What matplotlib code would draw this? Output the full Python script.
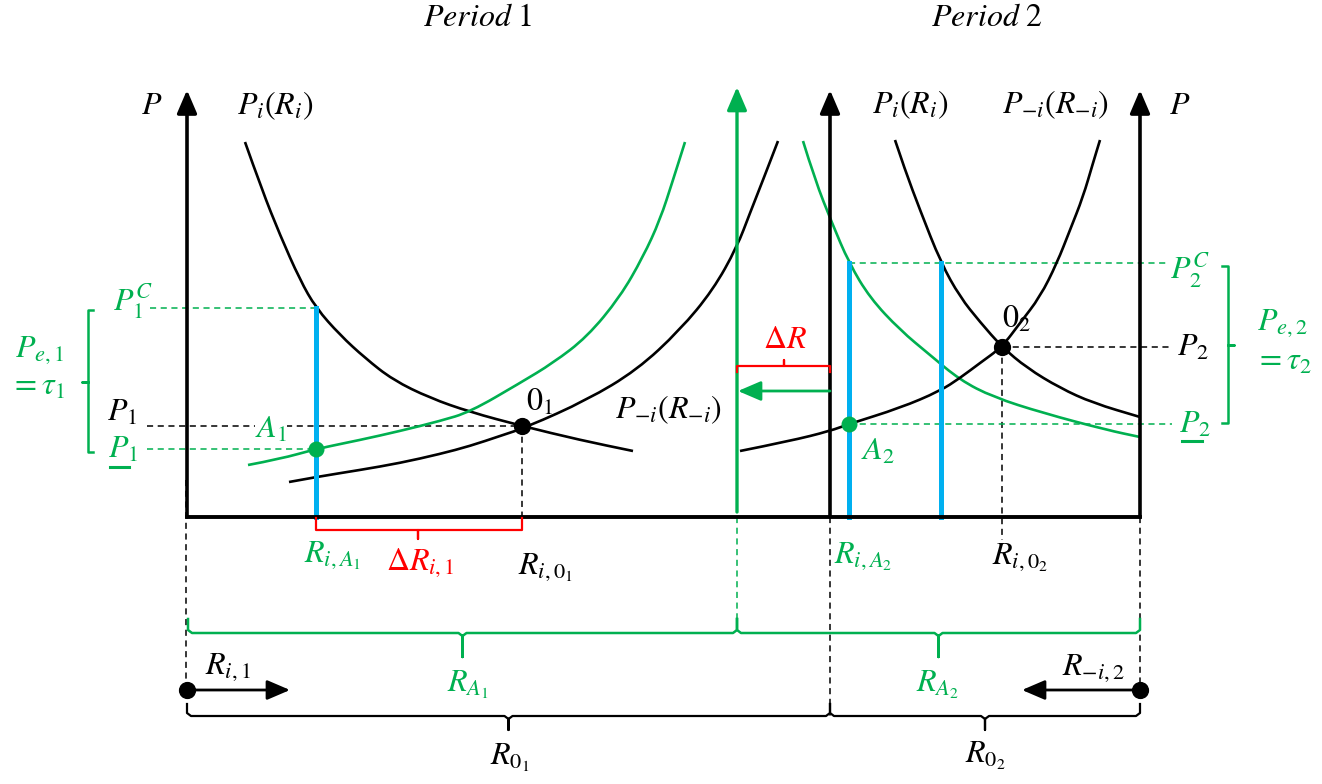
import matplotlib.pyplot as plt
import matplotlib as mpl
from matplotlib.path import Path
from matplotlib.patches import PathPatch
import numpy as np

mpl.rcParams['mathtext.fontset'] = 'stix'
mpl.rcParams['font.family'] = 'STIXGeneral'

GREEN = '#00B050'
BLUE = '#00B0F0'
RED = '#FF0000'

# diagram units (x to the right, y downward)
base_y = 517
axis_top = 90
left_axis_x = 187
mid_axis_x = 830
right_axis_x = 1140
shift_axis_x = 737

# period 1 curves
p1_demand_x = [245, 262, 280, 300, 316, 340, 365, 393, 430, 470, 522, 580, 633]
p1_demand_y = [142, 190, 235, 280, 308, 335, 358, 380, 398, 412, 426, 440, 451]
p1_other_x = [289, 316, 360, 400, 440, 470, 500, 527, 587, 637, 680, 713, 737, 750, 763, 778]
p1_other_y = [482, 477, 470, 463, 454, 446, 436, 427, 400, 370, 330, 290, 247, 213, 180, 141]
p1_green_x = [248, 280, 316, 360, 400, 440, 470, 520, 553, 587, 620, 643, 660, 673, 685]
p1_green_y = [465, 459, 449, 440, 431, 421, 412, 383, 363, 337, 297, 257, 220, 180, 142]

# period 2 curves
p2_green_x = [803, 815, 832, 849, 870, 900, 930, 960, 993, 1043, 1107, 1140]
p2_green_y = [141, 180, 223, 263, 298, 330, 355, 380, 397, 413, 430, 437]
p2_demand_x = [895, 905, 920, 941, 960, 980, 1002, 1027, 1060, 1093, 1140]
p2_demand_y = [140, 170, 210, 263, 297, 322, 347, 368, 388, 403, 417]
p2_other_x = [740, 790, 830, 849, 900, 940, 960, 980, 1002, 1020, 1040, 1057, 1070, 1083, 1093, 1100]
p2_other_y = [451, 441, 431, 424, 408, 391, 378, 363, 347, 323, 297, 263, 230, 197, 163, 140]

# key points
eq_x = [522, 1002]
eq_y = [426, 347]
a_x = [316, 849]
a_y = [449, 424]
blue_x = [316, 849, 941]
blue_top = [308, 263, 263]

fig = plt.figure(figsize=(13.22, 7.84), dpi=100)
ax = fig.add_axes([0, 0, 1, 1])
ax.set_xlim(0, 1322)
ax.set_ylim(784, 0)
ax.axis('off')


def arrow(x0, y0, x1, y1, color='k', lw=2.6, ms=20):
    ax.annotate('', xy=(x1, y1), xytext=(x0, y0),
                arrowprops=dict(arrowstyle='-|>,head_length=0.7,head_width=0.3',
                                lw=lw, color=color, mutation_scale=ms,
                                shrinkA=0, shrinkB=0))


def dash(xs, ys, color='k'):
    ax.plot(xs, ys, color=color, lw=1.1, ls=(0, (4, 3)), zorder=1)


def txt(x, y, s, color='k', size=23, **kw):
    ax.text(x, y, s, color=color, fontsize=size, ha='center', va='center', zorder=6, **kw)


def curve(xs, ys, color):
    # quadratic segments through the midpoints of the read points
    pts = list(zip(xs, ys))
    verts = [pts[0]]
    codes = [Path.MOVETO]
    for i in range(1, len(pts) - 1):
        mid = ((pts[i][0] + pts[i + 1][0]) / 2, (pts[i][1] + pts[i + 1][1]) / 2)
        verts += [pts[i], mid]
        codes += [Path.CURVE3, Path.CURVE3]
    verts.append(pts[-1])
    codes.append(Path.LINETO)
    ax.add_patch(PathPatch(Path(verts, codes), fill=False, edgecolor=color,
                           lw=1.9, zorder=2))


# dashed guides
dash([left_axis_x - 1, left_axis_x - 1], [480, 690])
dash([shift_axis_x, shift_axis_x], [base_y, 633], GREEN)
dash([mid_axis_x, mid_axis_x], [base_y, 716])
dash([right_axis_x, right_axis_x], [base_y, 690])
dash([eq_x[0], eq_x[0]], [eq_y[0], base_y])
dash([eq_x[1], eq_x[1]], [eq_y[1], 540])
dash([150, blue_x[0]], [blue_top[0], blue_top[0]], GREEN)
dash([147, eq_x[0]], [eq_y[0], eq_y[0]])
dash([147, a_x[0]], [a_y[0], a_y[0]], GREEN)
dash([blue_x[1], 1167], [blue_top[1], blue_top[1]], GREEN)
dash([eq_x[1], 1170], [eq_y[1], eq_y[1]])
dash([a_x[1], 1172], [a_y[1], a_y[1]], GREEN)

# axes
ax.plot([left_axis_x, right_axis_x], [base_y, base_y], color='k', lw=2.8, zorder=3)
for x in [left_axis_x, mid_axis_x, right_axis_x]:
    arrow(x, base_y, x, axis_top, 'k', 2.6)
arrow(shift_axis_x, base_y - 5, shift_axis_x, axis_top - 3, GREEN, 2.4)

# curves
curve(p1_demand_x, p1_demand_y, 'k')
curve(p1_other_x, p1_other_y, 'k')
curve(p1_green_x, p1_green_y, GREEN)
curve(p2_green_x, p2_green_y, GREEN)
curve(p2_demand_x, p2_demand_y, 'k')
curve(p2_other_x, p2_other_y, 'k')

# blue quantity lines
for x, top in zip(blue_x, blue_top):
    ax.plot([x, x], [top, base_y], color=BLUE, lw=3.6, zorder=2)

# points
ax.scatter(eq_x, eq_y, s=130, color='k', zorder=5)
ax.scatter(a_x, a_y, s=110, color=GREEN, zorder=5)
ax.scatter([left_axis_x, right_axis_x], [690, 690], s=130, color='k', zorder=5)

# shift arrows
arrow(left_axis_x, 690, 290, 690, 'k', 2.0, 20)
arrow(right_axis_x, 690, 1022, 690, 'k', 2.0, 20)
arrow(mid_axis_x, 391, 738, 391, GREEN, 2.0, 20)


def hbrace(x0, x1, y, tip, color, lw=1.8, end=-14):
    xm = (x0 + x1) / 2
    ax.plot([x0, x0, x0 + 4, xm - 4, xm, xm, xm, xm + 4, x1 - 4, x1, x1],
            [y + end, y - 3, y, y, y + 3, y + tip, y + 3, y, y, y - 3, y + end],
            color=color, lw=lw, zorder=3)


hbrace(left_axis_x + 1, shift_axis_x, 633, 24, GREEN)
hbrace(shift_axis_x, right_axis_x, 633, 24, GREEN)
hbrace(left_axis_x, mid_axis_x, 716, 14, 'k', 1.6, -12)
hbrace(mid_axis_x, right_axis_x, 716, 14, 'k', 1.6, -12)

# red brackets
ax.plot([a_x[0], a_x[0], 418, 418, 418, eq_x[0], eq_x[0]],
        [518, 530, 530, 539, 530, 530, 518], color=RED, lw=1.6, zorder=3)
ax.plot([shift_axis_x, shift_axis_x, 784, 784, 784, mid_axis_x, mid_axis_x],
        [372, 366, 366, 360, 366, 366, 372], color=RED, lw=1.6, zorder=3)

# side brackets
ax.plot([93, 88, 88, 82, 88, 88, 93], [310, 310, 382, 382, 382, 452, 452],
        color=GREEN, lw=1.8)
ax.plot([1222, 1228, 1228, 1234, 1228, 1228, 1222], [266, 266, 345, 345, 345, 423, 423],
        color=GREEN, lw=1.8)

# texts
txt(478, 18, r'$Period\ 1$')
txt(987, 18, r'$Period\ 2$')
txt(152, 106, r'$P$')
txt(1180, 106, r'$P$')
txt(275, 106, r'$P_i(R_i)$')
txt(910, 105, r'$P_i(R_i)$')
txt(1055, 105, r'$P_{-i}(R_{-i})$')
txt(668, 410, r'$P_{-i}(R_{-i})$')
txt(133, 302, r'$P_1^C$', GREEN)
txt(40, 350, r'$P_{e,1}$', GREEN)
txt(38, 387, r'$=\tau_1$', GREEN)
txt(122, 413, r'$P_1$')
txt(123, 450, r'$P_1$', GREEN)
ax.plot([110, 129], [467, 467], color=GREEN, lw=2.2)
txt(271, 430, r'$A_1$', GREEN,
    bbox=dict(facecolor='white', edgecolor='none', pad=0))
txt(540, 403, r'$0_1$')
txt(332, 555, r'$R_{i,A_1}$', GREEN)
txt(420, 563, r'$\Delta R_{i,1}$', RED)
txt(545, 567, r'$R_{i,0_1}$')
txt(785, 340, r'$\Delta R$', RED)
txt(878, 452, r'$A_2$', GREEN)
txt(1017, 320, r'$0_2$')
txt(863, 556, r'$R_{i,A_2}$', GREEN)
txt(1020, 557, r'$R_{i,0_2}$')
txt(1190, 270, r'$P_2^C$', GREEN)
txt(1193, 348, r'$P_2$')
txt(1195, 425, r'$P_2$', GREEN)
ax.plot([1182, 1202], [441, 441], color=GREEN, lw=2.2)
txt(1282, 323, r'$P_{e,2}$', GREEN)
txt(1283, 362, r'$=\tau_2$', GREEN)
txt(468, 685, r'$R_{A_1}$', GREEN)
txt(938, 685, r'$R_{A_2}$', GREEN)
txt(228, 667, r'$R_{i,1}$')
txt(1093, 668, r'$R_{-i,2}$')
txt(510, 758, r'$R_{0_1}$')
txt(985, 756, r'$R_{0_2}$')

fig.savefig('out.png', dpi=100)
